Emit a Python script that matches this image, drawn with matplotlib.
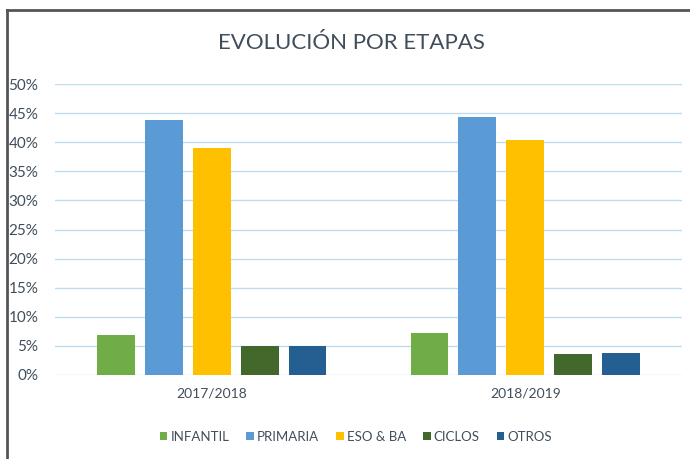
import matplotlib
matplotlib.use("Agg")
import matplotlib.pyplot as plt
from matplotlib.ticker import PercentFormatter
import numpy as np

categories = ["2017/2018", "2018/2019"]
series_names = ["INFANTIL", "PRIMARIA", "ESO & BA", "CICLOS", "OTROS"]
infantil = [6.9, 7.3]
primaria = [43.9, 44.3]
eso_ba = [39.0, 40.4]
ciclos = [5.0, 3.6]
otros = [5.0, 3.8]
yticks = [0, 5, 10, 15, 20, 25, 30, 35, 40, 45, 50]

values = [infantil, primaria, eso_ba, ciclos, otros]
colors = ["#70AD47", "#5B9BD5", "#FFC000", "#43682B", "#255E91"]

plt.rcParams['font.family'] = ['Lato', 'DejaVu Sans']
text_color = "#404e5c"

fig = plt.figure(figsize=(6.9, 4.59), dpi=100)
ax = fig.add_axes([55/690, 1 - 375/459, (682-55)/690, (375-84)/459])

x = np.arange(len(categories))
width = 0.12
step = 0.153
for i, (name, vals, c) in enumerate(zip(series_names, values, colors)):
    ax.bar(x + (i - 2) * step, vals, width, color=c, label=name, zorder=3)

ax.set_xlim(-0.5, 1.5)
ax.set_ylim(0, 50)
ax.set_yticks(yticks)
ax.yaxis.set_major_formatter(PercentFormatter(decimals=0))
ax.set_xticks(x)
ax.set_xticklabels(categories)
ax.grid(axis='y', color="#bfdcef", linewidth=1.0, zorder=0)
for s in ax.spines.values():
    s.set_visible(False)
ax.tick_params(axis='both', length=0, colors=text_color, labelsize=11)
ax.tick_params(axis='y', pad=12)
ax.tick_params(axis='x', pad=9)
for lbl in ax.get_xticklabels():
    lbl.set_fontsize(10)

fig.text(351/690, 1 - 43/459, "EVOLUCIÓN POR ETAPAS", ha='center', va='center',
         fontsize=16, color=text_color)

leg = fig.legend(loc='center', bbox_to_anchor=(356/690, 1 - 437/459), ncol=5,
                 frameon=False, fontsize=9.5, handlelength=0.55, handleheight=0.55,
                 handletextpad=0.25, columnspacing=1.3)
for t in leg.get_texts():
    t.set_color(text_color)

# frame lines (left and top)
fig.add_artist(plt.Line2D([7/690, 7/690], [0, 1 - 10/459], transform=fig.transFigure,
                          color="#555555", linewidth=2))
fig.add_artist(plt.Line2D([7/690, 1], [1 - 10/459, 1 - 10/459], transform=fig.transFigure,
                          color="#555555", linewidth=2))

fig.savefig("out.png", dpi=100)
